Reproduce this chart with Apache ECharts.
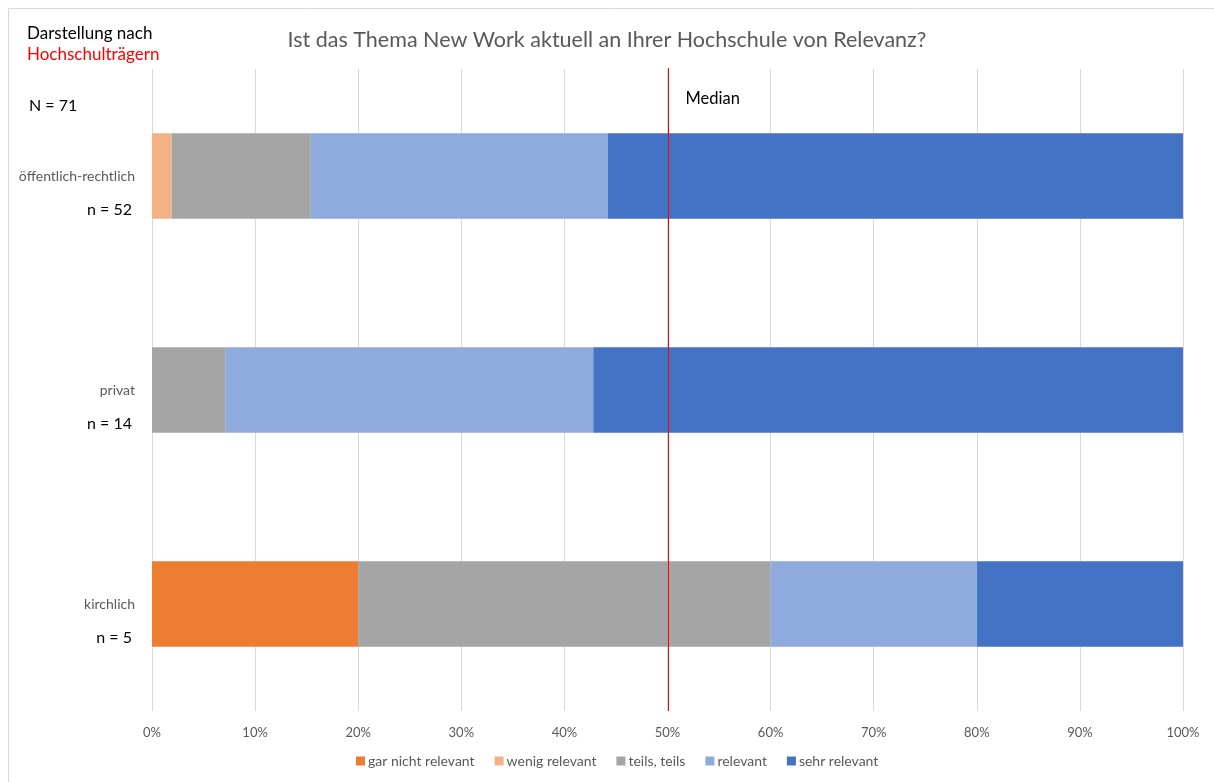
<!DOCTYPE html>
<html>
<head>
<meta charset="utf-8">
<script src="https://cdn.jsdelivr.net/npm/echarts@6/dist/echarts.min.js"></script>
<style>
  html, body { margin: 0; padding: 0; background: #fff; }
  #chart { width: 1214px; height: 782px; }
</style>
</head>
<body>
<div id="chart"></div>
<script>
// Sponsorship groups (top to bottom) and their sample sizes
const categories = ['öffentlich-rechtlich', 'privat', 'kirchlich'];
const sampleSizes = [52, 14, 5];

// Share of answers per group, in percent
const garNichtRelevant = [0, 0, 20];
const wenigRelevant = [1.9, 0, 0];
const teilsTeils = [13.5, 7.1, 40];
const relevant = [28.8, 35.7, 20];
const sehrRelevant = [55.8, 57.2, 20];

const xTicks = [0, 10, 20, 30, 40, 50, 60, 70, 80, 90, 100];
const medianValue = 50;

const FONT = 'Lato, "Open Sans", sans-serif';
const GREY_TEXT = '#595959';

const seriesDefs = [
  { name: 'gar nicht relevant', data: garNichtRelevant, color: '#ED7D31' },
  { name: 'wenig relevant', data: wenigRelevant, color: '#F4B183' },
  { name: 'teils, teils', data: teilsTeils, color: '#A5A5A5' },
  { name: 'relevant', data: relevant, color: '#8FAADC' },
  { name: 'sehr relevant', data: sehrRelevant, color: '#4472C4' }
];

const chart = echarts.init(document.getElementById('chart'), null, { renderer: 'canvas' });

const series = seriesDefs.map(s => ({
  name: s.name,
  type: 'bar',
  stack: 'total',
  data: s.data,
  barWidth: '40%',
  itemStyle: { color: s.color },
  emphasis: { disabled: true }
}));

chart.setOption({
  animation: false,
  textStyle: { fontFamily: FONT },
  title: {
    text: 'Ist das Thema New Work aktuell an Ihrer Hochschule von Relevanz?',
    left: 'center',
    top: 24,
    textStyle: { fontFamily: FONT, fontSize: 21.5, fontWeight: 'normal', color: GREY_TEXT }
  },
  legend: {
    bottom: 9,
    left: 351,
    itemWidth: 9,
    itemHeight: 9,
    itemGap: 20,
    icon: 'rect',
    textStyle: { fontFamily: FONT, fontSize: 14, color: GREY_TEXT, padding: [0, 0, 0, -2] },
    data: seriesDefs.map(s => s.name)
  },
  grid: { left: 152, right: 31, top: 69, bottom: 71, containLabel: false },
  xAxis: {
    type: 'value',
    min: xTicks[0],
    max: xTicks[xTicks.length - 1],
    interval: 10,
    axisLine: { show: false },
    axisTick: { show: false },
    splitLine: { show: true, lineStyle: { color: '#D9D9D9', width: 1 } },
    axisLabel: {
      formatter: v => v + '%',
      color: GREY_TEXT,
      fontSize: 13,
      fontFamily: FONT,
      margin: 15
    }
  },
  yAxis: {
    type: 'category',
    data: categories,
    inverse: true,
    axisLine: { show: false },
    axisTick: { show: false },
    splitLine: { show: false },
    axisLabel: {
      color: GREY_TEXT,
      fontSize: 14,
      fontFamily: FONT,
      margin: 17
    }
  },
  series: series
});

// Median line, sample-size labels and side notes, placed through the axes
const extra = [];
const gridRect = chart.getModel().getComponent('grid').coordinateSystem.getRect();
const medX = Math.round(chart.convertToPixel({ xAxisIndex: 0 }, medianValue)) + 0.5;
extra.push({
  type: 'line',
  silent: true,
  z: 100,
  shape: { x1: medX, y1: gridRect.y - 1, x2: medX, y2: gridRect.y + gridRect.height },
  style: { stroke: '#FF0000', lineWidth: 1 }
});
categories.forEach((c, i) => {
  const y = chart.convertToPixel({ yAxisIndex: 0 }, c);
  extra.push({
    type: 'text',
    x: 132,
    y: y + 34,
    style: {
      text: 'n = ' + sampleSizes[i],
      fill: '#000',
      font: '16px ' + FONT,
      align: 'right',
      verticalAlign: 'middle'
    }
  });
});
extra.push({
  type: 'text',
  x: medX + 17,
  y: 99,
  style: { text: 'Median', fill: '#000', font: '16.5px ' + FONT, verticalAlign: 'middle' }
});
extra.push({
  type: 'text', x: 27, y: 34,
  style: { text: 'Darstellung nach', fill: '#000', font: '17px ' + FONT, verticalAlign: 'middle' }
});
extra.push({
  type: 'text', x: 27, y: 55,
  style: { text: 'Hochschulträgern', fill: '#FF0000', font: '17px ' + FONT, verticalAlign: 'middle' }
});
extra.push({
  type: 'text', x: 29, y: 106,
  style: { text: 'N = ' + sampleSizes.reduce((a, b) => a + b, 0), fill: '#000', font: '16px ' + FONT, verticalAlign: 'middle' }
});
extra.push({
  type: 'rect',
  shape: { x: 8.5, y: 8.5, width: 1220, height: 790 },
  style: { fill: 'none', stroke: '#D9D9D9', lineWidth: 1 },
  silent: true
});
chart.setOption({ graphic: extra });
</script>
</body>
</html>
